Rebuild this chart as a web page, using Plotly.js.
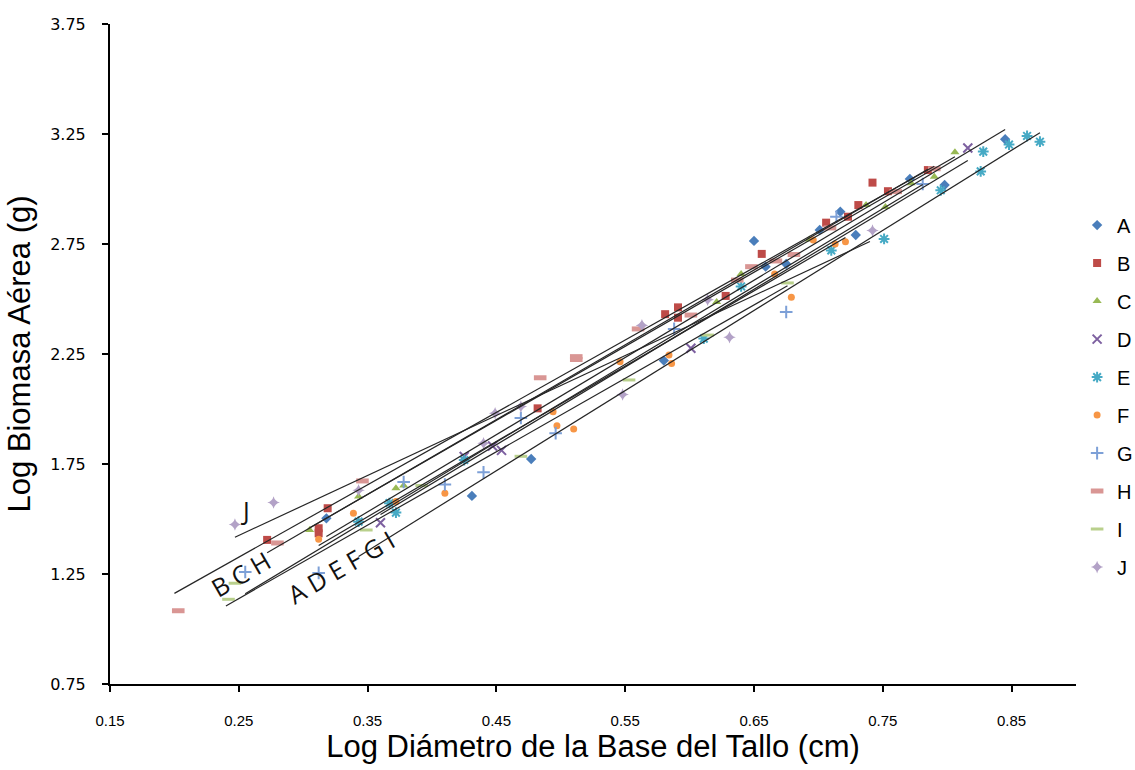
<!DOCTYPE html>
<html>
<head>
<meta charset="utf-8">
<script src="https://cdn.plot.ly/plotly-3.0.1.min.js"></script>
<style>html,body{margin:0;padding:0;background:#fff}#chart{width:1135px;height:770px}</style>
</head>
<body>
<div id="chart"></div>
<script>
// ---- data ----
const groups = ["A","B","C","D","E","F","G","H","I","J"];

const aX = [0.318,0.431,0.477,0.580,0.650,0.659,0.675,0.701,0.717,0.729,0.771,0.798,0.845];
const aY = [1.503,1.605,1.773,2.220,2.764,2.647,2.659,2.814,2.897,2.791,3.046,3.018,3.226];

const bX = [0.272,0.312,0.312,0.319,0.482,0.581,0.591,0.591,0.628,0.656,0.706,0.723,0.731,0.742,0.754,0.785];
const bY = [1.405,1.458,1.435,1.549,2.003,2.431,2.462,2.415,2.514,2.705,2.847,2.874,2.927,3.029,2.990,3.086];

const cX = [0.305,0.343,0.372,0.378,0.621,0.640,0.693,0.737,0.752,0.772,0.790,0.806];
const cY = [1.450,1.602,1.640,1.652,2.486,2.614,2.771,2.927,2.918,3.026,3.056,3.167];

const dX = [0.360,0.425,0.447,0.454,0.601,0.816];
const dY = [1.483,1.784,1.832,1.812,2.276,3.186];

const eX = [0.343,0.367,0.372,0.425,0.611,0.640,0.710,0.751,0.795,0.826,0.828,0.848,0.862,0.872];
const eY = [1.488,1.572,1.529,1.768,2.320,2.557,2.721,2.773,2.994,3.080,3.170,3.202,3.241,3.215];

const fX = [0.312,0.339,0.372,0.410,0.494,0.497,0.510,0.546,0.584,0.586,0.666,0.679,0.696,0.713,0.721];
const fY = [1.408,1.526,1.579,1.617,1.988,1.924,1.909,2.215,2.246,2.207,2.614,2.508,2.768,2.750,2.760];

const gX = [0.255,0.312,0.378,0.410,0.440,0.469,0.496,0.588,0.675,0.714,0.781];
const gY = [1.259,1.255,1.668,1.657,1.712,1.959,1.890,2.364,2.441,2.874,3.023];

const hX = [0.203,0.280,0.346,0.484,0.512,0.512,0.560,0.601,0.637,0.648,0.667,0.681,0.709,0.760,0.790];
const hY = [1.083,1.391,1.673,2.142,2.238,2.225,2.364,2.427,2.586,2.647,2.673,2.702,2.823,2.988,3.092];

const iX = [0.242,0.247,0.349,0.392,0.469,0.553,0.614,0.676];
const iY = [1.135,1.208,1.450,1.652,1.785,2.132,2.336,2.573];

const jX = [0.247,0.277,0.343,0.440,0.449,0.469,0.548,0.563,0.614,0.631,0.742];
const jY = [1.475,1.575,1.631,1.844,1.981,2.011,2.066,2.380,2.497,2.326,2.811];

// fitted lines, one per group: start and end points
const fitX0 = [0.318,0.272,0.305,0.360,0.343,0.312,0.255,0.200,0.240,0.247];
const fitY0 = [1.420,1.347,1.460,1.520,1.330,1.380,1.160,1.162,1.105,1.417];
const fitX1 = [0.845,0.785,0.806,0.816,0.872,0.721,0.781,0.790,0.676,0.740];
const fitY1 = [3.270,3.090,3.147,3.130,3.256,2.780,3.020,3.103,2.560,2.761];

const xTicks = [0.15,0.25,0.35,0.45,0.55,0.65,0.75,0.85];
const yTicks = [0.75,1.25,1.75,2.25,2.75,3.25,3.75];

// ---- styling ----
const seriesX = [aX,bX,cX,dX,eX,fX,gX,hX,iX,jX];
const seriesY = [aY,bY,cY,dY,eY,fY,gY,hY,iY,jY];
const colors = ["#4A7EBB","#BE4B48","#98B954","#7D60A0","#46AAC5","#F79646","#7DA0D7","#D99694","#B9D08C","#B3A2C7"];
const symbols = ["diamond","square","triangle-up","x-thin-open","asterisk-open","circle","cross-thin-open","line-ew-open","line-ew-open","star-diamond"];
const sizes = [8,8,8,9,9,7,9,9,9,9];
const lineW = [0,0,0,2,2,0,2,5,3,0];

const traces = [];
groups.forEach((g,k)=>{
  traces.push({
    type:"scatter", mode:"markers", name:g, x:seriesX[k], y:seriesY[k],
    legendgroup:g,
    marker:{symbol:symbols[k], size:sizes[k], color:colors[k],
            line:{color:colors[k], width:lineW[k]}},
    hoverinfo:"x+y"
  });
});
groups.forEach((g,k)=>{
  traces.push({
    type:"scatter", mode:"lines", showlegend:false, legendgroup:g,
    x:[fitX0[k],fitX1[k]], y:[fitY0[k],fitY1[k]],
    line:{color:"#262626", width:1.2}, hoverinfo:"skip"
  });
});

const annFont = {family:"Open Sans, Lato, sans-serif", size:25, color:"#111"};
const layout = {
  width:1135, height:770,
  margin:{l:110, r:59, t:24, b:86, pad:0, autoexpand:false},
  paper_bgcolor:"#fff", plot_bgcolor:"#fff",
  showlegend:true,
  legend:{xref:"container", yref:"container", x:0.949, xanchor:"left", y:0.733, yanchor:"top",
          font:{family:"Liberation Sans, Arial, sans-serif", size:20, color:"#000"},
          traceorder:"grouped", tracegroupgap:9, itemwidth:30, bgcolor:"rgba(0,0,0,0)"},
  xaxis:{range:[0.15,0.9], tickvals:xTicks, ticktext:xTicks.map(v=>v.toFixed(2)),
         showline:true, linecolor:"#000", linewidth:2, ticks:"outside", ticklen:6, tickwidth:2, tickcolor:"#000",
         showgrid:false, zeroline:false, ticklabelstandoff:16, automargin:false,
         tickfont:{family:"Liberation Sans, Arial, sans-serif", size:15, color:"#000"},
         title:{text:"Log Diámetro de la Base del Tallo (cm)", standoff:6,
                font:{family:"Liberation Sans, Arial, sans-serif", size:31, color:"#000"}}},
  yaxis:{range:[0.75,3.75], tickvals:yTicks, ticktext:yTicks.map(v=>v.toFixed(2)),
         showline:true, linecolor:"#000", linewidth:2, ticks:"outside", ticklen:6, tickwidth:2, tickcolor:"#000",
         showgrid:false, zeroline:false, ticklabelstandoff:13, automargin:false,
         tickfont:{family:"DejaVu Sans, sans-serif", size:16, color:"#000"},
         title:{text:"Log Biomasa Aérea (g)", standoff:10,
                font:{family:"Liberation Sans, Arial, sans-serif", size:31, color:"#000"}}},
  annotations:[
    {x:0.255, y:1.541, xref:"x", yref:"y", text:"J", showarrow:false, font:annFont},
    {x:0.251, y:1.250, xref:"x", yref:"y", text:"B C H", showarrow:false, textangle:-30, font:annFont},
    {x:0.329, y:1.280, xref:"x", yref:"y", text:"A D E F G I", showarrow:false, textangle:-30, font:annFont}
  ]
};
Plotly.newPlot("chart", traces, layout, {displayModeBar:false, staticPlot:true});
</script>
</body>
</html>
